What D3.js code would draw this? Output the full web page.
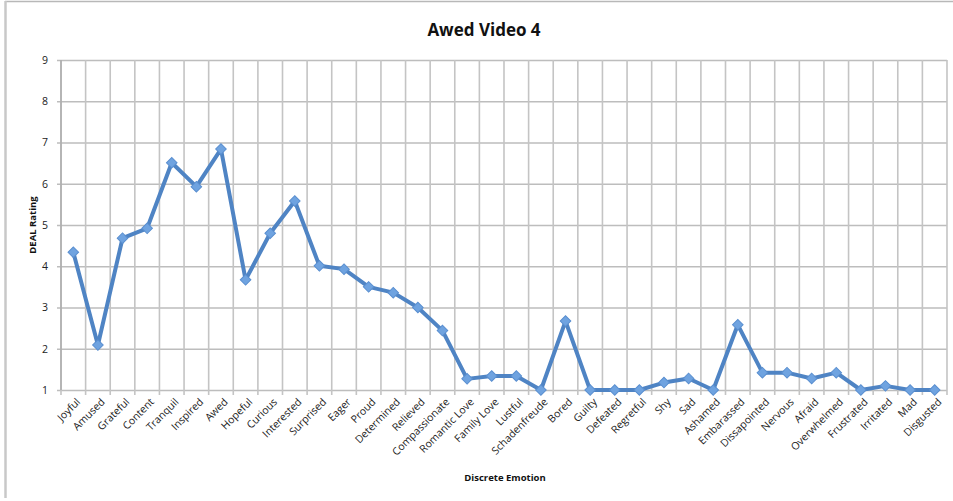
<!DOCTYPE html>
<html>
<head>
<meta charset="utf-8">
<script src="https://cdn.jsdelivr.net/npm/d3@7"></script>
<style>
  body { margin: 0; background: #fff; }
  #chart { width: 953px; height: 501px; }
  text { font-family: "Open Sans", "Liberation Sans", sans-serif; }
</style>
</head>
<body>
<div id="chart"></div>
<script>
// emotions along the x axis
const emotions = ["Joyful", "Amused", "Grateful", "Content", "Tranquil", "Inspired", "Awed", "Hopeful",
    "Curious", "Interested", "Surprised", "Eager", "Proud", "Determined", "Relieved", "Compassionate",
    "Romantic Love", "Family Love", "Lustful", "Schadenfreude", "Bored", "Guilty", "Defeated", "Regretful",
    "Shy", "Sad", "Ashamed", "Embarassed", "Dissapointed", "Nervous", "Afraid", "Overwhelmed",
    "Frustrated", "Irritated", "Mad", "Disgusted"];

// DEAL rating per emotion
const ratings = [4.34, 2.09, 4.68, 4.92, 6.51, 5.93, 6.84, 3.67,
    4.80, 5.58, 4.01, 3.93, 3.50, 3.36, 3.00, 2.44,
    1.27, 1.34, 1.34, 1.00, 2.67, 1.00, 1.00, 1.00,
    1.18, 1.28, 1.00, 2.58, 1.42, 1.42, 1.28, 1.42,
    1.00, 1.10, 1.00, 1.00];

const yTicks = [1, 2, 3, 4, 5, 6, 7, 8, 9];

const data = emotions.map((e, i) => ({emotion: e, value: ratings[i]}));

const margin = {top: 60, right: 6, bottom: 111, left: 61};
const width = 953 - margin.left - margin.right;
const height = 501 - margin.top - margin.bottom;

const svg = d3.select("#chart").append("svg")
    .attr("width", 953)
    .attr("height", 501);

// chart frame (top and left edges visible)
svg.append("line").attr("x1", 5).attr("x2", 953).attr("y1", 1.5).attr("y2", 1.5)
    .attr("stroke", "#b8b8b8").attr("stroke-width", 1.5);
svg.append("line").attr("x1", 5.5).attr("x2", 5.5).attr("y1", 1).attr("y2", 498)
    .attr("stroke", "#c8c8c8").attr("stroke-width", 2.5);

svg.append("text")
    .attr("x", 484)
    .attr("y", 36)
    .attr("text-anchor", "middle")
    .style("font-size", "17px")
    .style("font-weight", "bold")
    .style("fill", "#111")
    .text("Awed Video 4");

const g = svg.append("g")
    .attr("transform", `translate(${margin.left},${margin.top})`);

const x = d3.scaleBand()
    .domain(emotions)
    .range([0, width]);

const y = d3.scaleLinear()
    .domain([1, 9])
    .range([height, 0]);

// horizontal grid + y ticks
g.append("g")
    .attr("class", "y-grid")
    .call(d3.axisLeft(y).tickValues(yTicks).tickSize(-width).tickPadding(13).tickFormat(d3.format("d")))
    .call(a => a.select(".domain").remove())
    .call(a => a.selectAll(".tick line").attr("stroke", "#bdbdbd").attr("stroke-width", 1.3).attr("x1", -4))
    .call(a => a.selectAll(".tick text").style("font-size", "10.5px").style("fill", "#222")
        .attr("font-family", "'Open Sans', sans-serif"));

// vertical grid at category boundaries
const bounds = emotions.map(e => x(e)).concat([width]);
g.append("g")
    .selectAll("line")
    .data(bounds)
    .enter().append("line")
    .attr("x1", d => d).attr("x2", d => d)
    .attr("y1", 0).attr("y2", height + 5)
    .attr("stroke", "#c4c4c4")
    .attr("stroke-width", 1.6);

// y axis line
g.append("line")
    .attr("x1", 0).attr("x2", 0).attr("y1", 0).attr("y2", height)
    .attr("stroke", "#a8a8a8").attr("stroke-width", 1.3);

// x tick labels rotated
g.append("g")
    .selectAll("text")
    .data(emotions)
    .enter().append("text")
    .attr("transform", d => `translate(${x(d) + x.bandwidth() / 2 + 5},${height + 10}) rotate(-45)`)
    .attr("text-anchor", "end")
    .attr("dy", "0.35em")
    .style("font-size", "10.5px")
    .style("fill", "#222")
    .text(d => d);

// axis titles
svg.append("text")
    .attr("x", 505)
    .attr("y", 481)
    .attr("text-anchor", "middle")
    .style("font-size", "9.5px")
    .style("font-weight", "bold")
    .style("fill", "#111")
    .text("Discrete Emotion");

svg.append("text")
    .attr("transform", `translate(36,${margin.top + height / 2}) rotate(-90)`)
    .attr("text-anchor", "middle")
    .style("font-size", "9.5px")
    .style("font-weight", "bold")
    .style("fill", "#111")
    .text("DEAL Rating");

// line
const line = d3.line()
    .x(d => x(d.emotion) + x.bandwidth() / 2)
    .y(d => y(d.value));

g.append("path")
    .datum(data)
    .attr("d", line)
    .attr("fill", "none")
    .attr("stroke", "#4f84c4")
    .attr("stroke-width", 4)
    .attr("stroke-linejoin", "round");

// diamond markers (rotated squares)
g.selectAll(".marker")
    .data(data)
    .enter().append("path")
    .attr("class", "marker")
    .attr("transform", d => `translate(${x(d.emotion) + x.bandwidth() / 2},${y(d.value)}) rotate(45)`)
    .attr("d", d3.symbol().type(d3.symbolSquare).size(56))
    .attr("fill", "#6fa3e0")
    .attr("stroke", "#5a8fd0")
    .attr("stroke-width", 1);
</script>
</body>
</html>
